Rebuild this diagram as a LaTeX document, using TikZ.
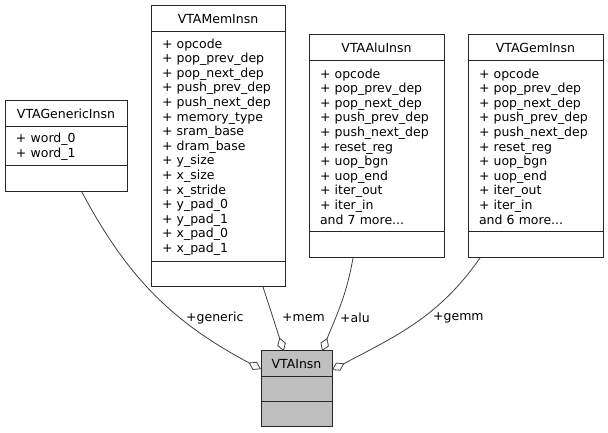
\documentclass[tikz,border=0pt]{standalone}
\usepackage{fontspec}
\setmainfont{DejaVu Sans}
\usetikzlibrary{calc,arrows.meta}
\definecolor{edgegray}{HTML}{404040}
\definecolor{insngray}{HTML}{BFBFBF}
\tikzset{
	classpart/.style={draw=black!85, line width=1pt, anchor=north west, inner sep=0pt, outer sep=0pt, font=\fontsize{12.5}{14.6}\selectfont},
	classhead/.style={classpart, minimum height=26pt, align=center},
	classbody/.style={classpart, align=left, inner xsep=11pt},
	classfoot/.style={classpart},
	member/.style={draw=edgegray, line width=0.8pt, -{Diamond[open, length=14pt, width=9pt]}},
	rolelabel/.style={anchor=west, inner sep=0pt, font=\fontsize{12.5}{14.6}\selectfont},
}

\begin{document}
\begin{tikzpicture}[x=1pt, y=1pt]
			%%%%% START %%%%%
			\useasboundingbox (0,0) rectangle (608,433);
			
			% VTAGenericInsn
			\node[classhead, minimum width=122pt] (genhead) at (5,332) {VTAGenericInsn};
			\node[classbody, text width=100pt, minimum height=39pt] (genbody) at (genhead.south west) {+ word\_0\\+ word\_1};
			\node[classfoot, minimum width=122pt, minimum height=26pt] (genfoot) at (genbody.south west) {};
			
			% VTAMemInsn
			\node[classhead, minimum width=134pt] (memhead) at (151,427) {VTAMemInsn};
			\node[classbody, text width=112pt, minimum height=230pt] (membody) at (memhead.south west) {+ opcode\\+ pop\_prev\_dep\\+ pop\_next\_dep\\+ push\_prev\_dep\\+ push\_next\_dep\\+ memory\_type\\+ sram\_base\\+ dram\_base\\+ y\_size\\+ x\_size\\+ x\_stride\\+ y\_pad\_0\\+ y\_pad\_1\\+ x\_pad\_0\\+ x\_pad\_1};
			\node[classfoot, minimum width=134pt, minimum height=25pt] (memfoot) at (membody.south west) {};
			
			% VTAAluInsn
			\node[classhead, minimum width=135pt] (aluhead) at (309,398) {VTAAluInsn};
			\node[classbody, text width=113pt, minimum height=171pt] (alubody) at (aluhead.south west) {+ opcode\\+ pop\_prev\_dep\\+ pop\_next\_dep\\+ push\_prev\_dep\\+ push\_next\_dep\\+ reset\_reg\\+ uop\_bgn\\+ uop\_end\\+ iter\_out\\+ iter\_in\\and 7 more...};
			\node[classfoot, minimum width=135pt, minimum height=26pt] (alufoot) at (alubody.south west) {};
			
			% VTAGemInsn
			\node[classhead, minimum width=135pt] (gemhead) at (468,398) {VTAGemInsn};
			\node[classbody, text width=113pt, minimum height=171pt] (gembody) at (gemhead.south west) {+ opcode\\+ pop\_prev\_dep\\+ pop\_next\_dep\\+ push\_prev\_dep\\+ push\_next\_dep\\+ reset\_reg\\+ uop\_bgn\\+ uop\_end\\+ iter\_out\\+ iter\_in\\and 6 more...};
			\node[classfoot, minimum width=135pt, minimum height=26pt] (gemfoot) at (gembody.south west) {};
			
			% VTAInsn
			\node[classhead, fill=insngray, minimum width=71pt] (insnhead) at (261,82) {VTAInsn};
			\node[classfoot, fill=insngray, minimum width=71pt, minimum height=25pt] (insnbody) at (insnhead.south west) {};
			\node[classfoot, fill=insngray, minimum width=71pt, minimum height=25pt] (insnfoot) at (insnbody.south west) {};
			
			% members
			\draw[member] ($(genfoot.south west)!0.63!(genfoot.south east)$) to[out=-62, in=152] ($(insnhead.south west)!0.3!(insnhead.north west)$);
			\draw[member] ($(memfoot.south west)!0.836!(memfoot.south east)$) -- ($(insnhead.north west)!0.32!(insnhead.north east)$);
			\draw[member] ($(alufoot.south west)!0.326!(alufoot.south east)$) to[out=-100, in=68] ($(insnhead.north west)!0.86!(insnhead.north east)$);
			\draw[member] ($(gemfoot.south west)!0.089!(gemfoot.south east)$) to[out=-125, in=28] ($(insnhead.south east)!0.27!(insnhead.north east)$);
			
			\node[rolelabel] (lgeneric) at (186,115) {+generic};
			\node[rolelabel] (lmem) at (282,115) {+mem};
			\node[rolelabel] (lalu) at (340,115) {+alu};
			\node[rolelabel] (lgemm) at (433,115) {+gemm};
			
			%%%%% END %%%%%
\end{tikzpicture}
\end{document}
